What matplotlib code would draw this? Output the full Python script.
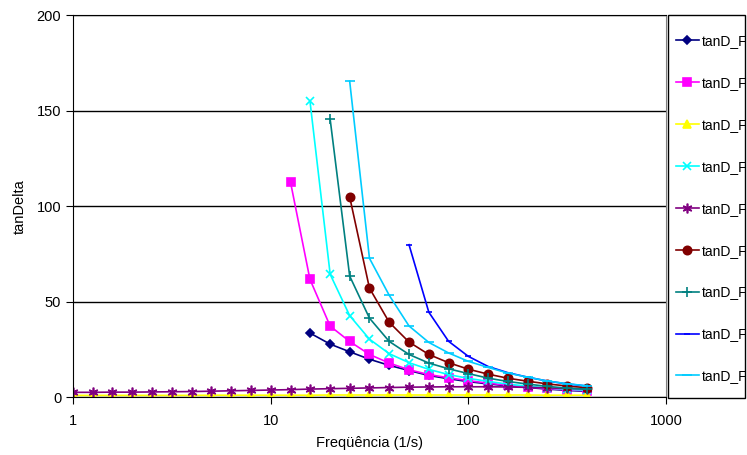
import matplotlib
matplotlib.use("Agg")
import numpy as np
import matplotlib.pyplot as plt
from matplotlib.patches import Rectangle

plt.rcParams['font.family'] = ['Liberation Sans', 'DejaVu Sans']

# frequency points (1/s), shared by all series; every series ends at 398
freq = [1, 1.26, 1.58, 2, 2.51, 3.16, 3.98, 5.01, 6.31, 7.94,
        10, 12.6, 15.8, 20, 25.1, 31.6, 39.8, 50.1, 63.1, 79.4,
        100, 126, 158, 200, 251, 316, 398]

labels = ["tanD_F"] * 9

f1 = [33.7, 27.9, 23.9, 20.0, 16.8, 14.1, 11.5, 9.8, 8.3, 7.1, 6.1, 5.2, 4.4, 3.7, 3.2]
f2 = [112.6, 61.8, 37.3, 29.3, 22.5, 18.0, 14.5, 12.0, 10.3, 8.8, 7.5, 6.4, 5.5, 4.7, 4.0, 3.5]
f3 = [1.1, 1.1, 1.1, 1.1, 1.1, 1.1, 1.1, 1.2, 1.2, 1.2, 1.2, 1.2, 1.2, 1.3, 1.3,
      1.3, 1.3, 1.3, 1.3, 1.3, 1.3, 1.3, 1.3, 1.3, 1.2, 1.2, 1.2]
f4 = [155.1, 64.4, 42.8, 30.5, 22.9, 18.2, 14.7, 12.0, 10.0, 8.4, 7.0, 5.9, 5.0, 4.3, 3.8]
f5 = [2.7, 2.7, 2.8, 2.8, 2.9, 3.0, 3.1, 3.3, 3.5, 3.7, 3.9, 4.1, 4.4, 4.6,
      4.8, 5.0, 5.2, 5.4, 5.5, 5.6, 5.6, 5.6, 5.5, 5.3, 5.0, 4.7, 4.5]
f6 = [104.9, 57.2, 39.3, 29.0, 22.5, 18.2, 14.8, 12.2, 10.1, 8.5, 7.1, 6.0, 5.1]
f7 = [145.4, 63.5, 41.5, 29.3, 22.5, 18.0, 15.0, 12.5, 10.1, 8.4, 7.0, 5.8, 4.9, 4.3]
f8 = [79.9, 44.6, 29.4, 21.5, 16.2, 13.0, 10.6, 8.6, 7.1, 6.0]
f9 = [165.4, 72.8, 53.4, 37.4, 28.8, 23.3, 18.9, 15.7, 12.8, 10.6, 8.6, 7.2, 6.1]

series = [f1, f2, f3, f4, f5, f6, f7, f8, f9]

colors = ['#000080', '#FF00FF', '#FFFF00', '#00FFFF', '#800080',
          '#800000', '#008080', '#0000FF', '#00CCFF']
markers = ['D', 's', '^', 'x', (6, 2, 0), 'o', '+', '_', '_']
msizes = [4, 6, 6, 6, 7, 6, 7, 4, 7]

fig = plt.figure(figsize=(7.47, 4.55), dpi=100)
ax = fig.add_axes([0.0977, 0.1264, 0.7939, 0.8406])

for vals, lab, c, m, ms in zip(series, labels, colors, markers, msizes):
    x = freq[len(freq) - len(vals):]
    ax.plot(x, vals, color=c, marker=m, markersize=ms, linewidth=1.2,
            markeredgewidth=1.2, label=lab)

ax.set_xscale('log')
ax.set_xlim(1, 1000)
ax.set_ylim(0, 200)
ax.set_yticks([0, 50, 100, 150, 200])
ax.set_xticks([1, 10, 100, 1000])
ax.set_xticklabels(['1', '10', '100', '1000'])
ax.xaxis.set_minor_locator(matplotlib.ticker.NullLocator())
ax.yaxis.grid(True, color='black', linewidth=1)
ax.set_axisbelow(True)
ax.tick_params(axis='both', direction='out', length=5, labelsize=10.5, colors='black')
ax.tick_params(axis='x', pad=7)

for s in ['left', 'bottom', 'top']:
    ax.spines[s].set_color('black')
ax.spines['right'].set_color('#808080')

ax.set_xlabel('Freqüência (1/s)', fontsize=10.5, labelpad=6)
ax.set_ylabel('tanDelta', fontsize=10.5, labelpad=7)

# legend entries without frame, box drawn separately
leg = fig.legend(loc='upper left', bbox_to_anchor=(676 / 747, 1 - 34 / 455),
                 fontsize=10, frameon=False,
                 labelspacing=2.01, handlelength=1.65, handletextpad=0.2,
                 borderpad=0, borderaxespad=0)
fig.patches.append(Rectangle((668 / 747, 1 - 397.5 / 455), 77 / 747, 382.5 / 455,
                             transform=fig.transFigure, fill=False,
                             edgecolor='black', linewidth=1.0))

fig.savefig('out.png', dpi=100)
